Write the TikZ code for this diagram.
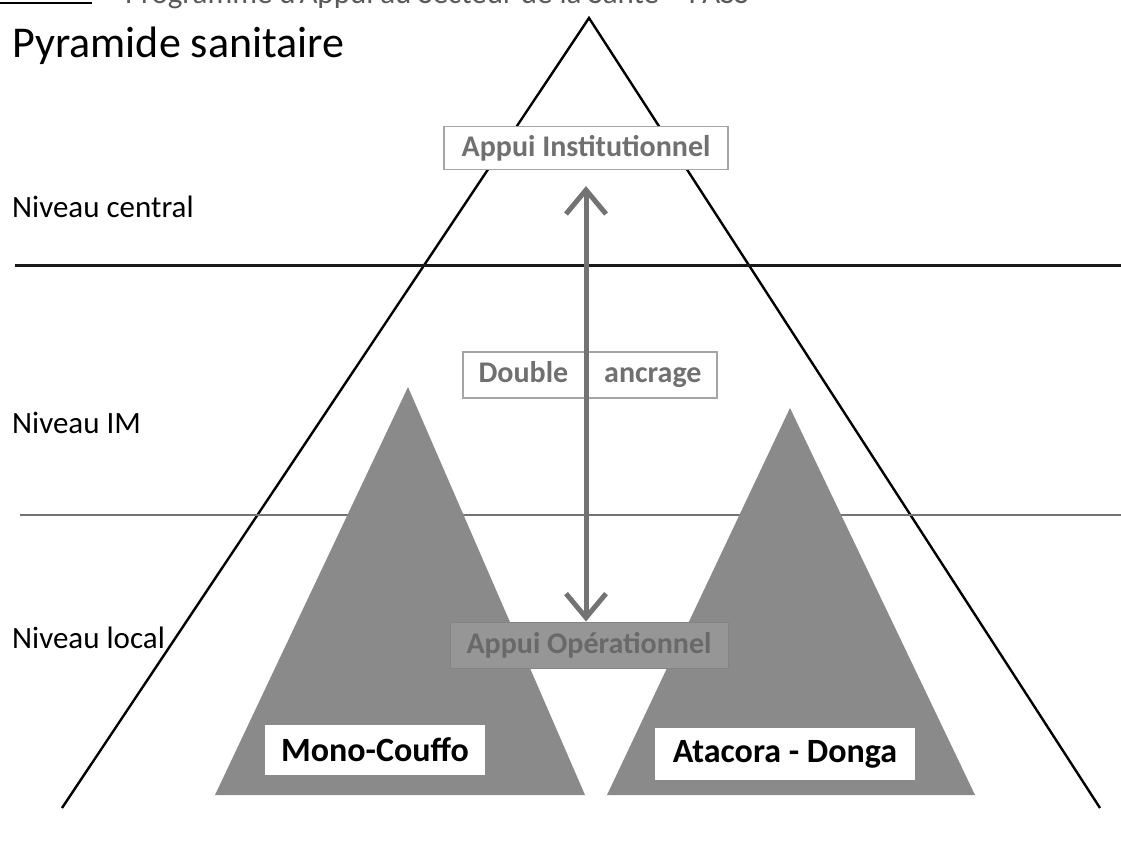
\documentclass[tikz,border=0pt]{standalone}
\usepackage{fontspec}
\setmainfont{Carlito}
\usetikzlibrary{arrows.meta}
\definecolor{tri}{RGB}{138,138,138}
\definecolor{lbl}{RGB}{112,112,112}
\definecolor{brd}{RGB}{165,165,165}
\definecolor{opfill}{RGB}{150,150,150}
\definecolor{optext}{RGB}{105,105,105}
\definecolor{arr}{RGB}{115,115,115}
\definecolor{hdr}{RGB}{90,90,90}
\begin{document}
\begin{tikzpicture}[x=1pt,y=-1pt,
  lvl/.style={anchor=west, font=\fontsize{31}{36}\selectfont, inner sep=0},
  graybox/.style={draw=brd, line width=1.2pt, fill=white, text=lbl,
    font=\fontsize{30}{34}\selectfont\bfseries, inner sep=0},
  opbox/.style={draw=brd!80!black, line width=1pt, fill=opfill, text=optext,
    font=\fontsize{30}{34}\selectfont\bfseries, inner sep=0},
  namebox/.style={fill=white, text=black, font=\fontsize{34}{40}\selectfont\bfseries, inner sep=0},
  pyrline/.style={line width=2.4pt, black},
  subtri/.style={fill=tri, draw=none},
  dblarrow/.style={arr, line width=5pt, {Straight Barb[length=24pt,width=40pt]}-{Straight Barb[length=24pt,width=40pt]}}
]
\useasboundingbox (0,0) rectangle (1121,853);
\fill[white] (0,0) rectangle (1121,853);

% clipped header
\begin{scope}
  \clip (0,0) rectangle (1121,20);
  \node[anchor=base west, inner sep=0, text=hdr, font=\fontsize{31}{36}\selectfont] (hdr) at (125,3.5)
    {Programme d'Appui au Secteur de la Santé – PASS};
  \draw[line width=2.2pt] (0,3.3) -- (92,3.3);
\end{scope}

% title
\node[anchor=base west, inner sep=0, font=\fontsize{44}{50}\selectfont] (title) at (12,58) {Pyramide sanitaire};

% main pyramid
\coordinate (apex) at (589,18);
\coordinate (bl) at (62,808);
\coordinate (br) at (1100,808);
\draw[pyrline] (bl) -- (apex) -- (br);

% level lines
\coordinate (h1a) at (15,265);
\coordinate (h1b) at (1121,265);
\coordinate (h2a) at (20,515);
\coordinate (h2b) at (1121,515);
\draw[line width=3pt, black!90] (h1a) -- (h1b);
\draw[line width=2.6pt, black!55] (h2a) -- (h2b);

% sub pyramids
\coordinate (la) at (408,387);
\coordinate (ll) at (215,795);
\coordinate (lr) at (585,795);
\coordinate (ra) at (790,408);
\coordinate (rl) at (607,795);
\coordinate (rr) at (975,795);
\fill[subtri] (ll) -- (la) -- (lr) -- cycle;
\fill[subtri] (rl) -- (ra) -- (rr) -- cycle;

% level labels
\node[lvl] (nc) at (12,207) {Niveau central};
\node[lvl] (nim) at (12,423) {Niveau IM};
\node[lvl] (nl) at (12,638) {Niveau local};

% boxes
\node[graybox, minimum width=284, minimum height=43] (inst) at (586,148) {Appui Institutionnel};
\node[graybox, minimum width=254, minimum height=46] (dbl) at (590,375) {Double\hspace{36pt}ancrage};
\node[opbox, minimum width=278, minimum height=46] (op) at (589,645) {Appui Opérationnel};

% double arrow
\draw[dblarrow, shorten <=16pt] (inst.south) -- (op.north -| inst.south);

% region names
\node[namebox, minimum width=220, minimum height=50] (mc) at (375,750) {Mono-Couffo};
\node[namebox, minimum width=260, minimum height=52] (ad) at (785,754) {Atacora - Donga};
\end{tikzpicture}
\end{document}
